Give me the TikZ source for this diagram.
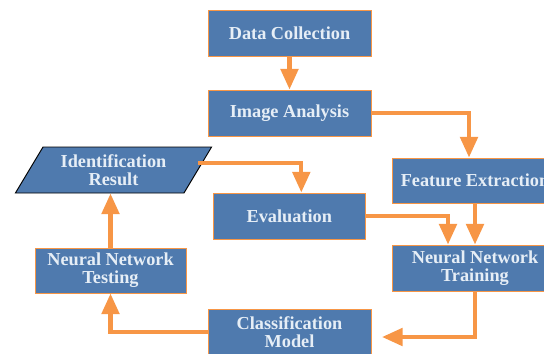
\documentclass[tikz,border=0pt]{standalone}
\usepackage{fontspec}
\setmainfont{Liberation Serif}
\usetikzlibrary{arrows.meta,shapes.geometric}
\definecolor{boxblue}{RGB}{79,122,174}
\definecolor{lineorange}{RGB}{247,150,70}
\definecolor{textwhite}{RGB}{230,238,246}
\begin{document}
\begin{tikzpicture}[x=0.03cm,y=-0.03cm,
    stage/.style={draw=lineorange,line width=0.8pt,fill=boxblue,text=textwhite,
      font=\fontsize{15.6}{15.6}\selectfont\bfseries,align=center,
      minimum width=4.89cm,minimum height=1.38cm,inner sep=0pt},
    flow/.style={lineorange,line width=3.6pt,-{Triangle[length=0.62cm,width=0.52cm]}}]
    \useasboundingbox (0,0) rectangle (544,353);
    \clip (0,0) rectangle (544,353);
    % boxes
    \node[stage] (collect) at (289.5,33) {Data Collection};
    \node[stage] (analysis) at (289.5,113) {Image Analysis};
    \node[stage,minimum width=4.98cm,minimum height=1.35cm] (feature) at (475,180.5) {Feature Extraction};
    \node[stage,minimum width=4.98cm] (training) at (475,268) {Neural Network\\Training};
    \node[stage,minimum width=4.55cm] (evaluation) at (289.3,216) {Evaluation};
    \node[stage] (classify) at (289.5,332) {Classification\\Model};
    \node[stage,minimum width=4.53cm,minimum height=1.35cm] (testing) at (110.5,270.5) {Neural Network\\Testing};
    \node[stage,draw=black,trapezium,trapezium left angle=59,trapezium right angle=121,
      minimum width=5.77cm,inner xsep=-4pt] (result) at (113.5,170) {Identification\\Result};
    % arrows
    \coordinate (modelin) at (382,337);
    \draw[flow] (collect) -- (analysis);
    \draw[flow] (analysis.east) -| ([xshift=-0.18cm]feature.north);
    \draw[flow] (feature) -- (training);
    \draw[flow] (evaluation.east) -| ([xshift=-0.81cm]training.north);
    \draw[flow] (training.south) |- (modelin);
    \draw[flow] (classify.west) -| (testing.south);
    \draw[flow] (testing.north) -- (testing.north |- result.south);
    \draw[flow] ([yshift=0.2cm]result.east) -| ([xshift=0.36cm]evaluation.north);
\end{tikzpicture}
\end{document}
